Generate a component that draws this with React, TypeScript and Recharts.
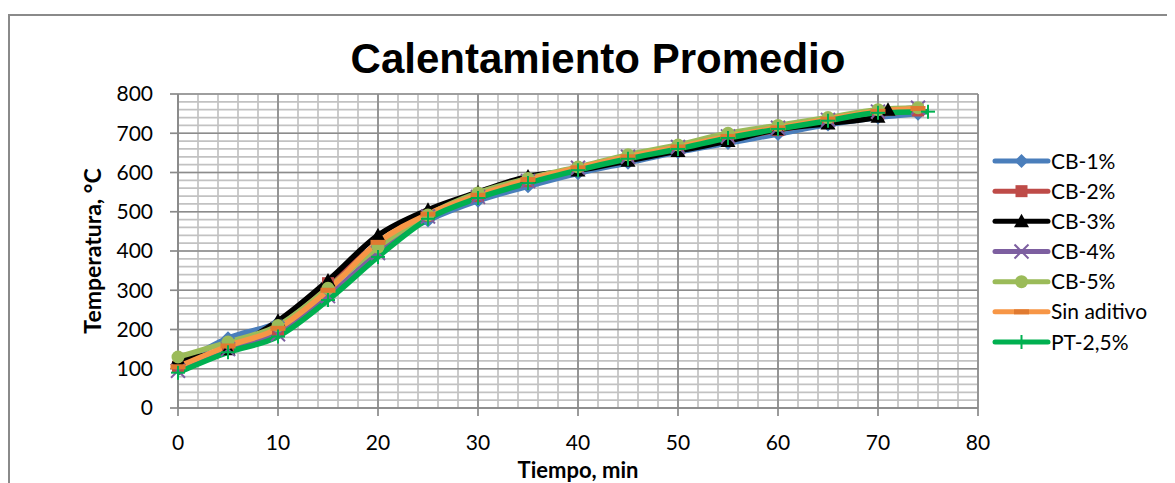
import React from "react";
import { LineChart, Line, XAxis, YAxis, CartesianGrid, Legend } from "recharts";

// ---- data ----
const timeCB = [0, 5, 10, 15, 20, 25, 30, 35, 40, 45, 50, 55, 60, 65, 70, 74];
const timeCB3 = [0, 5, 10, 15, 20, 25, 30, 35, 40, 45, 50, 55, 60, 65, 70, 71];
const timePT = [0, 5, 10, 15, 20, 25, 30, 35, 40, 45, 50, 55, 60, 65, 70, 75];

const cb1Temp = [108, 178, 218, 305, 412, 478, 528, 565, 598, 625, 652, 675, 698, 722, 740, 750];
const cb2Temp = [105, 155, 200, 318, 418, 490, 540, 578, 608, 636, 660, 685, 708, 730, 748, 758];
const cb3Temp = [125, 150, 222, 325, 440, 505, 550, 590, 605, 630, 655, 680, 710, 725, 742, 760];
const cb4Temp = [95, 150, 188, 285, 395, 488, 538, 578, 612, 640, 665, 692, 714, 734, 755, 765];
const cb5Temp = [130, 168, 210, 305, 410, 492, 548, 585, 614, 645, 670, 700, 720, 740, 760, 765];
const sinTemp = [105, 158, 203, 300, 422, 494, 542, 582, 612, 640, 665, 692, 714, 736, 756, 763];
const ptTemp = [90, 142, 182, 275, 385, 482, 535, 573, 606, 635, 660, 688, 711, 732, 752, 755];

const xTicks = [0, 10, 20, 30, 40, 50, 60, 70, 80];
const yTicks = [0, 100, 200, 300, 400, 500, 600, 700, 800];
const xMinor = Array.from({ length: 41 }, (_, i) => i * 2);
const yMinor = Array.from({ length: 41 }, (_, i) => i * 20);

const zip = (xs: number[], ys: number[]) => xs.map((x, i) => ({ x, y: ys[i] }));

type Shape = "diamond" | "square" | "triangle" | "cross" | "circle" | "dash" | "plus";

const series: { name: string; color: string; mark: string; shape: Shape; data: { x: number; y: number }[] }[] = [
  { name: "CB-1%", color: "#4A7EBB", mark: "#4A7EBB", shape: "diamond", data: zip(timeCB, cb1Temp) },
  { name: "CB-2%", color: "#BE4B48", mark: "#BE4B48", shape: "square", data: zip(timeCB, cb2Temp) },
  { name: "CB-3%", color: "#000000", mark: "#000000", shape: "triangle", data: zip(timeCB3, cb3Temp) },
  { name: "CB-4%", color: "#7D5FA0", mark: "#7D5FA0", shape: "cross", data: zip(timeCB, cb4Temp) },
  { name: "CB-5%", color: "#9BBB59", mark: "#9BBB59", shape: "circle", data: zip(timeCB, cb5Temp) },
  { name: "Sin aditivo", color: "#F79646", mark: "#E07A30", shape: "dash", data: zip(timeCB, sinTemp) },
  { name: "PT-2,5%", color: "#00B050", mark: "#00B050", shape: "plus", data: zip(timePT, ptTemp) },
];

const FONT = "Lato, 'Open Sans', sans-serif";

function marker(shape: Shape, color: string, cx: number, cy: number, key?: any) {
  switch (shape) {
    case "diamond":
      return <polygon key={key} points={`${cx},${cy - 7} ${cx + 7},${cy} ${cx},${cy + 7} ${cx - 7},${cy}`} fill={color} />;
    case "square":
      return <rect key={key} x={cx - 6} y={cy - 6} width={12} height={12} fill={color} />;
    case "triangle":
      return <polygon key={key} points={`${cx},${cy - 7.5} ${cx + 7.5},${cy + 6} ${cx - 7.5},${cy + 6}`} fill={color} />;
    case "cross":
      return (
        <g key={key} stroke={color} strokeWidth={2}>
          <line x1={cx - 7} y1={cy - 7} x2={cx + 7} y2={cy + 7} />
          <line x1={cx - 7} y1={cy + 7} x2={cx + 7} y2={cy - 7} />
        </g>
      );
    case "circle":
      return <circle key={key} cx={cx} cy={cy} r={6.5} fill={color} />;
    case "dash":
      return <rect key={key} x={cx - 7.5} y={cy - 2.5} width={15} height={5} fill={color} />;
    case "plus":
      return (
        <g key={key} stroke={color} strokeWidth={2}>
          <line x1={cx} y1={cy - 7} x2={cx} y2={cy + 7} />
          <line x1={cx - 7} y1={cy} x2={cx + 7} y2={cy} />
        </g>
      );
  }
  return null;
}

const LegendContent = () => (
  <svg width={180} height={220} style={{ display: "block", overflow: "visible" }}>
    {series.map((s, i) => {
      const cy = 12 + i * 30.17;
      return (
        <g key={s.name}>
          <line x1={2} y1={cy} x2={55} y2={cy} stroke={s.color} strokeWidth={5} strokeLinecap="round" />
          {marker(s.shape, s.mark, 28.5, cy)}
          <text x={58} y={cy + 7.5} fontFamily={FONT} fontSize={21} fill="#000">
            {s.name}
          </text>
        </g>
      );
    })}
  </svg>
);

const YTitle = (props: any) => {
  const vb = props.viewBox || {};
  const cx = 84;
  const cy = (vb.y ?? 86) + (vb.height ?? 314) / 2;
  return (
    <text x={cx} y={cy} transform={`rotate(-90 ${cx} ${cy})`} textAnchor="middle" dominantBaseline="central" fontFamily={FONT} fontWeight="bold" fontSize={23} fill="#000">
      Temperatura, °C
    </text>
  );
};

const XTitle = (props: any) => {
  const vb = props.viewBox || {};
  const cx = (vb.x ?? 170) + (vb.width ?? 800) / 2;
  const y = (vb.y ?? 400) + 70;
  return (
    <text x={cx} y={y} textAnchor="middle" fontFamily={FONT} fontWeight="bold" fontSize={22} fill="#000">
      Tiempo, min
    </text>
  );
};

export default function App() {
  const W = 1167;
  const H = 475;
  return (
    <div style={{ position: "relative", width: W, height: H, overflow: "hidden", background: "#fff" }}>
      <div
        style={{
          position: "absolute",
          left: 0,
          top: 6,
          width: W + 20,
          height: H + 20,
          borderLeft: "2px solid #8a8a8a",
          borderTop: "2px solid #8a8a8a",
          boxSizing: "border-box",
        }}
      />
      <LineChart width={W} height={H} margin={{ top: 86, right: 197, bottom: 0, left: 0 }} style={{ position: "absolute", left: 0, top: 0 }}>
        <CartesianGrid horizontalValues={yMinor} verticalValues={xMinor} stroke="#c2c2c2" strokeWidth={1.7} />
        <CartesianGrid horizontalValues={yTicks} verticalValues={xTicks} stroke="#8c8c8c" strokeWidth={1.7} />
        <XAxis
          type="number"
          dataKey="x"
          domain={[0, 80]}
          ticks={xTicks}
          interval={0}
          height={75}
          tickSize={8}
          tickMargin={19}
          axisLine={{ stroke: "#8a8a8a", strokeWidth: 1.7 }}
          tickLine={{ stroke: "#8a8a8a", strokeWidth: 1.7 }}
          tick={{ fill: "#000", fontFamily: FONT, fontSize: 21 }}
          allowDuplicatedCategory={false}
          label={<XTitle />}
        />
        <YAxis
          type="number"
          domain={[0, 800]}
          ticks={yTicks}
          interval={0}
          width={170}
          tickSize={8}
          tickMargin={17}
          axisLine={{ stroke: "#8a8a8a", strokeWidth: 1.7 }}
          tickLine={{ stroke: "#8a8a8a", strokeWidth: 1.7 }}
          tick={{ fill: "#000", fontFamily: FONT, fontSize: 21 }}
          label={<YTitle />}
        />
        {series.map((s) => (
          <Line
            key={s.name + "-line"}
            data={s.data}
            dataKey="y"
            name={s.name}
            type="monotone"
            stroke={s.color}
            strokeWidth={5.5}
            dot={false}
            activeDot={false}
            isAnimationActive={false}
            legendType="none"
          />
        ))}
        {series.map((s) => (
          <Line
            key={s.name + "-marks"}
            data={s.data}
            dataKey="y"
            name={s.name + " marks"}
            type="monotone"
            stroke="none"
            dot={(p: any) => marker(s.shape, s.mark, p.cx, p.cy, `${s.name}-${p.index}`) as any}
            activeDot={false}
            isAnimationActive={false}
            legendType="none"
          />
        ))}
        <Legend
          verticalAlign="top"
          align="left"
          layout="horizontal"
          content={<LegendContent />}
          wrapperStyle={{ position: "absolute", left: 985, top: 140.7, width: 0, height: 0, overflow: "visible" }}
        />
      </LineChart>
      <svg width={W} height={80} style={{ position: "absolute", left: 0, top: 0, pointerEvents: "none" }}>
        <text x={590} y={65} textAnchor="middle" fontFamily="'Liberation Sans', Arial, sans-serif" fontWeight="bold" fontSize={42} fill="#000">
          Calentamiento Promedio
        </text>
      </svg>
    </div>
  );
}
